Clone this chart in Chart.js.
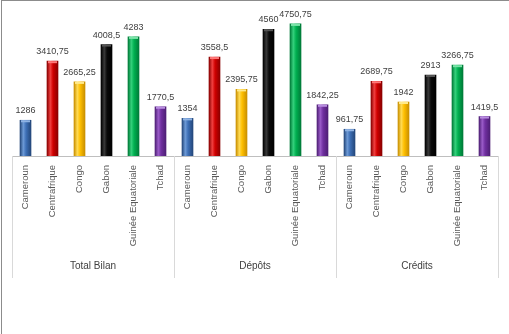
<!DOCTYPE html>
<html>
<head>
<meta charset="utf-8">
<script src="https://cdn.jsdelivr.net/npm/chart.js@4"></script>
<style>
  body { margin: 0; background: #fff; }
  #wrap { width: 509px; height: 334px; position: relative; }
</style>
</head>
<body>
<div id="wrap"><canvas id="myChart" width="509" height="334"></canvas></div>
<script>
var groups = ['Total Bilan', 'Dépôts', 'Crédits'];
var countries = ['Cameroun', 'Centrafrique', 'Congo', 'Gabon', 'Guinée Equatoriale', 'Tchad'];
var totalBilan = [1286, 3410.75, 2665.25, 4008.5, 4283, 1770.5];
var depots = [1354, 3558.5, 2395.75, 4560, 4750.75, 1842.25];
var credits = [961.75, 2689.75, 1942, 2913, 3266.75, 1419.5];

// colour per country: [edge, middle, highlight, cap]
var colors = [
  ['#24477a', '#3d6fb6', '#6d9ad6', '#8fb3e3'],
  ['#8a0000', '#d00000', '#f04040', '#ff7a7a'],
  ['#c98f00', '#ffc000', '#ffdb55', '#ffe98a'],
  ['#000000', '#0a0a0a', '#3a3a3a', '#555555'],
  ['#007a38', '#00b050', '#35d07c', '#7ae3a8'],
  ['#4e1f75', '#7030a0', '#9a5cc8', '#b88de0']
];

var labels = [];
var values = [];
[totalBilan, depots, credits].forEach(function(serie) {
  serie.forEach(function(v, i) {
    labels.push(countries[i]);
    values.push(v);
  });
});

var FONT = '"Liberation Sans Narrow", "Liberation Sans", sans-serif';

function fmt(v) {
  return String(v).replace('.', ',');
}

var cylinder = function(c) {
  var col = colors[(c.dataIndex || 0) % 6];
  if (c.type !== 'data') return col[1];
  var x = c.chart.scales.x ? c.chart.scales.x.getPixelForValue(c.dataIndex) : NaN;
  if (!isFinite(x)) return col[1];
  var g = c.chart.ctx.createLinearGradient(x - 5.5, 0, x + 5.5, 0);
  g.addColorStop(0, col[0]);
  g.addColorStop(0.3, col[2]);
  g.addColorStop(0.55, col[1]);
  g.addColorStop(1, col[0]);
  return g;
};

var extras = {
  id: 'extras',
  beforeDraw: function(chart) {
    var ctx = chart.ctx;
    ctx.save();
    ctx.fillStyle = '#8c8c8c';
    ctx.fillRect(1, 0, 1, chart.height);
    ctx.fillRect(1, 0, chart.width - 1, 1);
    ctx.restore();
  },
  afterDatasetsDraw: function(chart) {
    var ctx = chart.ctx;
    var meta = chart.getDatasetMeta(0);
    ctx.save();
    ctx.font = '9px ' + FONT;
    ctx.textAlign = 'center';
    ctx.textBaseline = 'bottom';
    meta.data.forEach(function(bar, i) {
      var col = colors[i % 6];
      var w = bar.width;
      ctx.fillStyle = col[3];
      ctx.fillRect(bar.x - w / 2 + 1, bar.y, w - 2, 2);
      ctx.fillStyle = '#404040';
      ctx.fillText(fmt(values[i]), bar.x, bar.y - 5);
    });
    ctx.restore();
  },
  afterDraw: function(chart) {
    var ctx = chart.ctx;
    var xs = chart.scales.x;
    var top = chart.chartArea.bottom;
    var step = xs.width / groups.length;
    ctx.save();
    ctx.strokeStyle = '#d9d9d9';
    ctx.lineWidth = 1;
    for (var g = 0; g <= groups.length; g++) {
      var x = Math.round(xs.left + step * g) + 0.5;
      ctx.beginPath();
      ctx.moveTo(x, top);
      ctx.lineTo(x, top + 122);
      ctx.stroke();
    }
    ctx.fillStyle = '#404040';
    ctx.font = '10px ' + FONT;
    ctx.textAlign = 'center';
    ctx.textBaseline = 'middle';
    groups.forEach(function(name, g) {
      ctx.fillText(name, xs.left + step * (g + 0.5), top + 110);
    });
    ctx.restore();
  }
};

var ctx = document.getElementById('myChart');
var myChart = new Chart(ctx, {
  type: 'bar',
  data: {
    labels: labels,
    datasets: [{
      label: 'CEMAC',
      data: values,
      backgroundColor: cylinder,
      barThickness: 11,
      borderWidth: 0
    }]
  },
  options: {
    responsive: false,
    animation: false,
    layout: {
      padding: { left: 12, right: 11, top: 17, bottom: 0 }
    },
    plugins: {
      legend: { display: false },
      tooltip: { enabled: false }
    },
    scales: {
      x: {
        offset: true,
        grid: { display: false, drawTicks: false },
        border: { display: true, color: '#bfbfbf' },
        ticks: {
          autoSkip: false,
          maxRotation: 90,
          minRotation: 90,
          padding: 9,
          color: '#595959',
          font: { family: FONT, size: 9.5 }
        },
        afterFit: function(scale) {
          scale.height = 178;
        }
      },
      y: {
        display: false,
        min: 0,
        max: 5000
      }
    }
  },
  plugins: [extras]
});
</script>
</body>
</html>
